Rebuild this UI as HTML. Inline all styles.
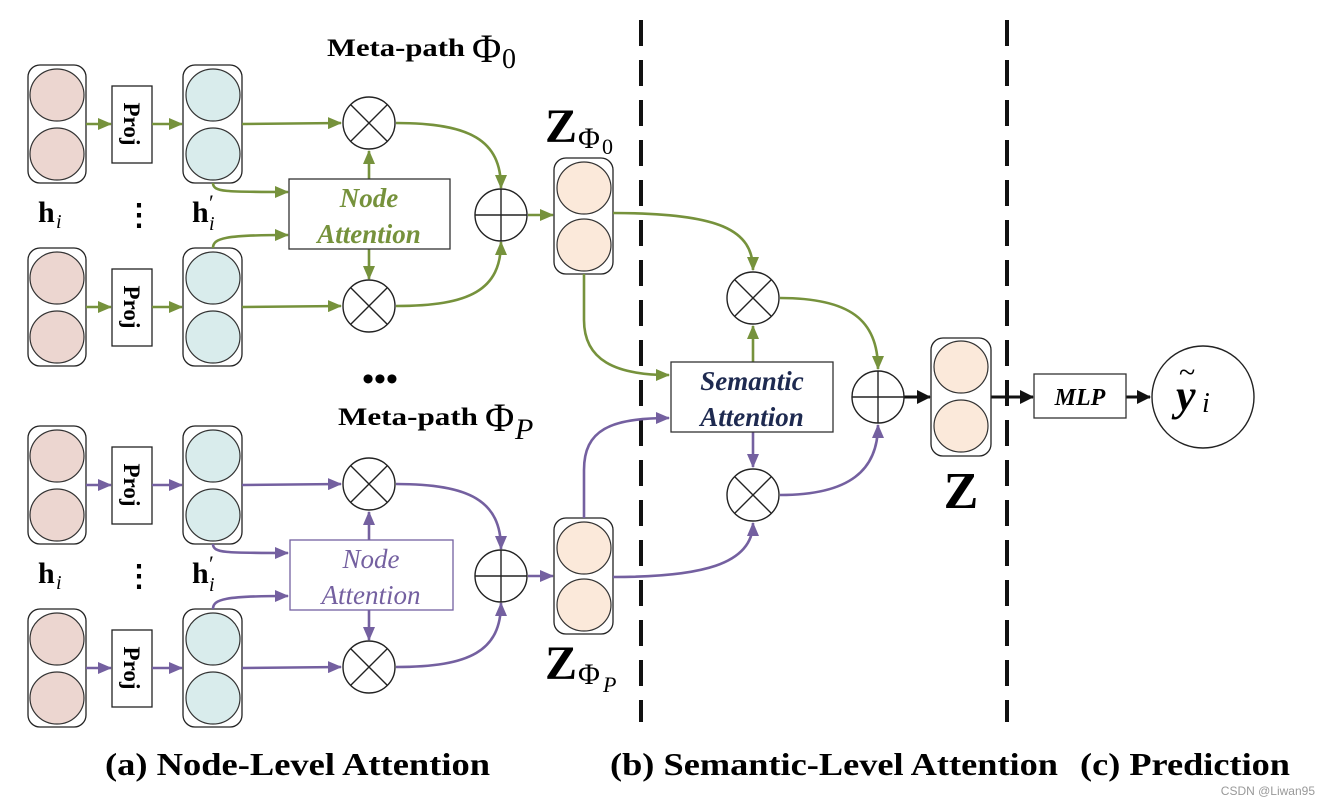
<!DOCTYPE html>
<html><head><meta charset="utf-8"><style>
html,body{margin:0;padding:0;background:#fff;}
svg{display:block;}
text{font-family:"Liberation Serif",serif;}
</style></head><body>
<svg width="1321" height="805" viewBox="0 0 1321 805" xmlns="http://www.w3.org/2000/svg">
<defs>
<marker id="g" markerWidth="14" markerHeight="12" refX="13" refY="6" orient="auto" markerUnits="userSpaceOnUse"><path d="M0,0 L14,6 L0,12 Z" fill="#76923c"/></marker>
<marker id="p" markerWidth="14" markerHeight="12" refX="13" refY="6" orient="auto" markerUnits="userSpaceOnUse"><path d="M0,0 L14,6 L0,12 Z" fill="#7460a0"/></marker>
<marker id="k" markerWidth="14" markerHeight="14" refX="13" refY="7" orient="auto" markerUnits="userSpaceOnUse"><path d="M0,0 L14,7 L0,14 Z" fill="#111"/></marker>
<g id="col1"><rect x="28" y="65" width="58" height="118" rx="12" fill="#fff" stroke="#222" stroke-width="1.3"/>
<ellipse cx="57" cy="95" rx="27" ry="26" fill="#ecd6d0" stroke="#333" stroke-width="1.2"/>
<ellipse cx="57" cy="154" rx="27" ry="26" fill="#ecd6d0" stroke="#333" stroke-width="1.2"/></g>
<g id="col2"><rect x="183" y="65" width="59" height="118" rx="12" fill="#fff" stroke="#222" stroke-width="1.3"/>
<ellipse cx="213" cy="95" rx="27" ry="26" fill="#d9ecec" stroke="#333" stroke-width="1.2"/>
<ellipse cx="213" cy="154" rx="27" ry="26" fill="#d9ecec" stroke="#333" stroke-width="1.2"/></g>
<g id="proj"><rect x="112" y="86" width="40" height="77" fill="#fff" stroke="#222" stroke-width="1.3"/>
<text transform="translate(124,124) rotate(90)" text-anchor="middle" font-size="23" font-weight="bold">Proj</text></g>
<g id="ot"><circle r="26" fill="#fff" stroke="#222" stroke-width="1.4"/><path d="M-18,-18 L18,18 M18,-18 L-18,18" stroke="#222" stroke-width="1.4"/></g>
<g id="op"><circle r="26" fill="#fff" stroke="#222" stroke-width="1.4"/><path d="M-26,0 L26,0 M0,-26 L0,26" stroke="#222" stroke-width="1.4"/></g>
<g id="ztube"><rect x="554" y="0" width="59" height="116" rx="12" fill="#fff" stroke="#222" stroke-width="1.3"/>
<ellipse cx="584" cy="30" rx="27" ry="26" fill="#fbe9da" stroke="#333" stroke-width="1.2"/>
<ellipse cx="584" cy="87" rx="27" ry="26" fill="#fbe9da" stroke="#333" stroke-width="1.2"/></g>
</defs>

<line x1="641" y1="20" x2="641" y2="722" stroke="#111" stroke-width="4" stroke-dasharray="26,14"/>
<line x1="1007" y1="20" x2="1007" y2="722" stroke="#111" stroke-width="4" stroke-dasharray="26,14"/>

<g>
<text x="327" y="56" font-size="25" font-weight="bold" textLength="138" lengthAdjust="spacingAndGlyphs">Meta-path</text>
<text x="472" y="62" font-size="40">Φ</text><text x="502" y="68" font-size="28">0</text>
<use href="#col1"/><use href="#col1" y="183"/>
<use href="#col2"/><use href="#col2" y="183"/>
<use href="#proj"/><use href="#proj" y="183"/>
<g fill="none" stroke="#76923c" stroke-width="2.6">
<path d="M86,124 L111,124" marker-end="url(#g)"/><path d="M152,124 L182,124" marker-end="url(#g)"/>
<path d="M86,307 L111,307" marker-end="url(#g)"/><path d="M152,307 L182,307" marker-end="url(#g)"/>
<path d="M242,124 L341,123" marker-end="url(#g)"/>
<path d="M242,307 L341,306" marker-end="url(#g)"/>
<path d="M213,183 C213,192 225,192 288,192" marker-end="url(#g)"/>
<path d="M213,248 C213,238 225,235 288,235" marker-end="url(#g)"/>
<path d="M369,179 L369,151" marker-end="url(#g)"/>
<path d="M369,249 L369,279" marker-end="url(#g)"/>
<path d="M396,123 C470,123 501,140 501,188" marker-end="url(#g)"/>
<path d="M396,306 C470,306 501,290 501,242" marker-end="url(#g)"/>
<path d="M528,215 L553,215" marker-end="url(#g)"/>
</g>
<rect x="289" y="179" width="161" height="70" fill="#fff" stroke="#333" stroke-width="1.3"/>
<text x="369" y="207" text-anchor="middle" font-size="27" font-weight="bold" font-style="italic" fill="#76923c">Node</text>
<text x="369" y="243" text-anchor="middle" font-size="27" font-weight="bold" font-style="italic" fill="#76923c">Attention</text>
<use href="#ot" x="369" y="123"/><use href="#ot" x="369" y="306"/><use href="#op" x="501" y="215"/>
<use href="#ztube" y="158"/>
<text x="545" y="142" font-size="48" font-weight="bold">Z</text><text x="578" y="148" font-size="30">Φ</text><text x="602" y="154" font-size="22">0</text>
<text x="38" y="222" font-size="30" font-weight="bold">h</text><text x="56" y="228" font-size="20" font-style="italic">i</text>
<text x="124" y="225" font-size="30" font-weight="bold">⋮</text>
<text x="192" y="222" font-size="30" font-weight="bold">h</text><text x="209" y="210" font-size="22">′</text><text x="209" y="230" font-size="20" font-style="italic">i</text>
</g>

<text x="380" y="390" text-anchor="middle" font-size="34" font-weight="bold">•••</text>

<g transform="translate(0,361)">
<text x="338" y="64" font-size="25" font-weight="bold" textLength="140" lengthAdjust="spacingAndGlyphs">Meta-path</text>
<text x="485" y="70" font-size="40">Φ</text><text x="515" y="78" font-size="30" font-style="italic">P</text>
<use href="#col1"/><use href="#col1" y="183"/>
<use href="#col2"/><use href="#col2" y="183"/>
<use href="#proj"/><use href="#proj" y="183"/>
<g fill="none" stroke="#7460a0" stroke-width="2.6">
<path d="M86,124 L111,124" marker-end="url(#p)"/><path d="M152,124 L182,124" marker-end="url(#p)"/>
<path d="M86,307 L111,307" marker-end="url(#p)"/><path d="M152,307 L182,307" marker-end="url(#p)"/>
<path d="M242,124 L341,123" marker-end="url(#p)"/>
<path d="M242,307 L341,306" marker-end="url(#p)"/>
<path d="M213,183 C213,192 225,192 288,192" marker-end="url(#p)"/>
<path d="M213,248 C213,238 225,235 288,235" marker-end="url(#p)"/>
<path d="M369,179 L369,151" marker-end="url(#p)"/>
<path d="M369,249 L369,279" marker-end="url(#p)"/>
<path d="M396,123 C470,123 501,140 501,188" marker-end="url(#p)"/>
<path d="M396,306 C470,306 501,290 501,242" marker-end="url(#p)"/>
<path d="M528,215 L553,215" marker-end="url(#p)"/>
</g>
<rect x="290" y="179" width="163" height="70" fill="#fff" stroke="#7460a0" stroke-width="1.3"/>
<text x="371" y="207" text-anchor="middle" font-size="27" font-style="italic" fill="#7460a0">Node</text>
<text x="371" y="243" text-anchor="middle" font-size="27" font-style="italic" fill="#7460a0">Attention</text>
<use href="#ot" x="369" y="123"/><use href="#ot" x="369" y="306"/><use href="#op" x="501" y="215"/>
<use href="#ztube" y="157"/>
<text x="38" y="222" font-size="30" font-weight="bold">h</text><text x="56" y="228" font-size="20" font-style="italic">i</text>
<text x="124" y="225" font-size="30" font-weight="bold">⋮</text>
<text x="192" y="222" font-size="30" font-weight="bold">h</text><text x="209" y="210" font-size="22">′</text><text x="209" y="230" font-size="20" font-style="italic">i</text>
<text x="545" y="318" font-size="48" font-weight="bold">Z</text><text x="578" y="323" font-size="30">Φ</text><text x="603" y="331" font-size="22" font-style="italic">P</text>
</g>

<g fill="none" stroke-width="2.6">
<path d="M613,213 C720,213 753,230 753,270" stroke="#76923c" marker-end="url(#g)"/>
<path d="M584,274 L584,320 C584,360 615,375 669,375" stroke="#76923c" marker-end="url(#g)"/>
<path d="M753,362 L753,326" stroke="#76923c" marker-end="url(#g)"/>
<path d="M780,298 C850,298 878,320 878,369" stroke="#76923c" marker-end="url(#g)"/>
<path d="M584,518 L584,470 C584,430 610,418 669,418" stroke="#7460a0" marker-end="url(#p)"/>
<path d="M613,577 C700,577 753,565 753,523" stroke="#7460a0" marker-end="url(#p)"/>
<path d="M753,432 L753,467" stroke="#7460a0" marker-end="url(#p)"/>
<path d="M780,495 C850,495 878,470 878,425" stroke="#7460a0" marker-end="url(#p)"/>
<path d="M904,397 L930,397" stroke="#111" stroke-width="3" marker-end="url(#k)"/>
<path d="M991,397 L1033,397" stroke="#111" stroke-width="3" marker-end="url(#k)"/>
<path d="M1126,397 L1150,397" stroke="#111" stroke-width="3" marker-end="url(#k)"/>
</g>
<rect x="671" y="362" width="162" height="70" fill="#fff" stroke="#333" stroke-width="1.3"/>
<text x="752" y="390" text-anchor="middle" font-size="27" font-weight="bold" font-style="italic" fill="#1e2a50">Semantic</text>
<text x="752" y="426" text-anchor="middle" font-size="27" font-weight="bold" font-style="italic" fill="#1e2a50">Attention</text>
<use href="#ot" x="753" y="298"/><use href="#ot" x="753" y="495"/><use href="#op" x="878" y="397"/>
<rect x="931" y="338" width="60" height="118" rx="12" fill="#fff" stroke="#222" stroke-width="1.3"/>
<ellipse cx="961" cy="367" rx="27" ry="26" fill="#fbe9da" stroke="#333" stroke-width="1.2"/>
<ellipse cx="961" cy="426" rx="27" ry="26" fill="#fbe9da" stroke="#333" stroke-width="1.2"/>
<text x="961" y="508" text-anchor="middle" font-size="52" font-weight="bold">Z</text>
<rect x="1034" y="374" width="92" height="44" fill="#fff" stroke="#333" stroke-width="1.3"/>
<text x="1080" y="405" text-anchor="middle" font-size="24" font-weight="bold" font-style="italic">MLP</text>
<circle cx="1203" cy="397" r="51" fill="#fff" stroke="#222" stroke-width="1.4"/>
<text x="1176" y="410" font-size="44" font-weight="bold" font-style="italic">y</text>
<text x="1179" y="382" font-size="30">~</text>
<text x="1202" y="412" font-size="28" font-style="italic">i</text>

<text x="105" y="775" font-size="32" font-weight="bold" textLength="385" lengthAdjust="spacingAndGlyphs">(a) Node-Level Attention</text>
<text x="610" y="775" font-size="32" font-weight="bold" textLength="448" lengthAdjust="spacingAndGlyphs">(b) Semantic-Level Attention</text>
<text x="1080" y="775" font-size="32" font-weight="bold" textLength="210" lengthAdjust="spacingAndGlyphs">(c) Prediction</text>
<text x="1315" y="795" text-anchor="end" font-size="12" fill="#999" style="font-family:'Liberation Sans',sans-serif">CSDN @Liwan95</text>
</svg>
</body></html>
